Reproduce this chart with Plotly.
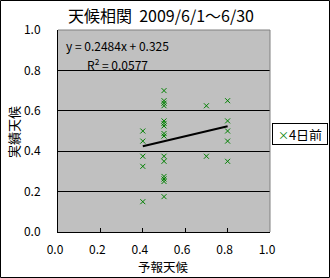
import plotly.graph_objects as go

title_text = "天候相関  2009/6/1～6/30"
x_title = "予報天候"
y_title = "実績天候"
series_name = "4日前"

forecast = [0.4, 0.4, 0.4, 0.4, 0.4,
            0.5, 0.5, 0.5, 0.5, 0.5, 0.5, 0.5, 0.5, 0.5, 0.5, 0.5, 0.5, 0.5, 0.5, 0.5,
            0.7, 0.7,
            0.8, 0.8, 0.8, 0.8, 0.8]
actual = [0.50, 0.45, 0.375, 0.325, 0.15,
          0.70, 0.65, 0.6375, 0.625, 0.55, 0.5375, 0.525, 0.4875, 0.475, 0.375, 0.35, 0.275, 0.2625, 0.25, 0.175,
          0.625, 0.375,
          0.65, 0.55, 0.50, 0.45, 0.35]

slope = 0.2484
intercept = 0.325
trend_x = [min(forecast), max(forecast)]
trend_y = [slope * v + intercept for v in trend_x]
eq_text = "y = 0.2484x + 0.325"
r2_text = "R<sup>2</sup> = 0.0577"

W, H = 330, 278
L, R, T, B = 58, 60, 30, 46
pw, ph = W - L - R, H - T - B

def px(xp):
    return (xp - L) / pw

def py(yp):
    return (H - B - yp) / ph

font = "Noto Sans CJK JP, sans-serif"

fig = go.Figure()
fig.add_trace(go.Scatter(
    x=forecast, y=actual, mode="markers", name=series_name,
    marker=dict(symbol="x-thin", size=5, color="#008000",
                line=dict(color="#008000", width=1)),
    showlegend=False,
))
fig.add_trace(go.Scatter(
    x=trend_x, y=trend_y, mode="lines",
    line=dict(color="black", width=2), showlegend=False,
))

fig.update_layout(
    width=W, height=H,
    margin=dict(l=L, r=R, t=T, b=B),
    paper_bgcolor="white", plot_bgcolor="#c0c0c0",
    font=dict(family=font, size=12, color="black"),
    title=dict(text=title_text, x=161 / W, xanchor="center", y=1 - 16 / H, yanchor="middle",
               font=dict(size=16, family=font), automargin=False),
    xaxis=dict(range=[0, 1], dtick=0.2, tickformat=".1f", showgrid=False, zeroline=False,
               showline=True, linecolor="black", linewidth=1, mirror=False, automargin=False,
               ticks="inside", ticklen=4, tickcolor="black", ticklabelstandoff=7,
               ticklabelshift=-3, tickfont=dict(size=12)),
    yaxis=dict(range=[0, 1], dtick=0.2, tickformat=".1f", showgrid=True, gridcolor="black",
               gridwidth=1, zeroline=False, automargin=False,
               showline=True, linecolor="black", linewidth=1,
               ticks="inside", ticklen=4, tickcolor="black", ticklabelstandoff=14,
               tickfont=dict(size=12)),
    showlegend=False,
    shapes=[
        dict(type="line", xref="paper", yref="paper", x0=0, x1=1, y0=1, y1=1,
             line=dict(color="#808080", width=1)),
        dict(type="line", xref="paper", yref="paper", x0=1, x1=1, y0=0, y1=1,
             line=dict(color="#808080", width=1)),
        dict(type="rect", xref="paper", yref="paper",
             x0=px(0.5), x1=px(W - 0.5), y0=py(H - 0.5), y1=py(0.5),
             line=dict(color="black", width=1), fillcolor="rgba(0,0,0,0)", layer="above"),
    ],
    annotations=[
        dict(text=x_title, xref="paper", yref="paper", x=px(163), y=py(266.5),
             xanchor="center", yanchor="middle", showarrow=False, font=dict(size=12.5)),
        dict(text=y_title, xref="paper", yref="paper", x=px(13), y=py(132),
             xanchor="center", yanchor="middle", showarrow=False, textangle=-90,
             font=dict(size=13)),
        dict(text=eq_text, xref="paper", yref="paper", x=px(64), y=py(46),
             xanchor="left", yanchor="middle", showarrow=False, font=dict(size=12)),
        dict(text=r2_text, xref="paper", yref="paper", x=px(85), y=py(64),
             xanchor="left", yanchor="middle", showarrow=False, font=dict(size=12)),
        dict(text="<span style='color:#008000;font-size:11px'>×</span>" + series_name,
             xref="paper", yref="paper", x=px(272), y=py(134),
             xanchor="left", yanchor="middle", showarrow=False,
             bordercolor="black", borderwidth=1, borderpad=3, bgcolor="white",
             width=48, height=14, align="center", font=dict(size=13)),
    ],
)

fig.write_html("out.html")
